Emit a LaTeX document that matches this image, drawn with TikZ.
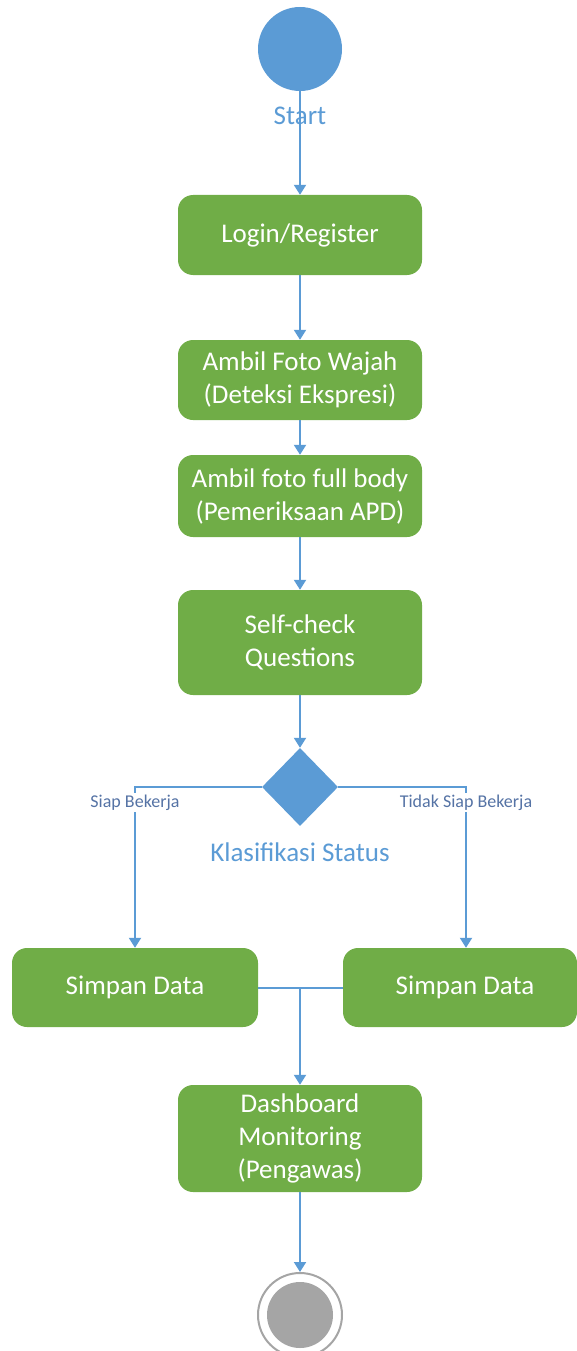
\documentclass[tikz,border=0pt]{standalone}
\usepackage{fontspec}
\setmainfont{Carlito}
\usetikzlibrary{arrows.meta,shapes.geometric}
\definecolor{actgreen}{HTML}{70AD47}
\definecolor{flowblue}{HTML}{5B9BD5}
\definecolor{endgray}{HTML}{A5A5A5}
\definecolor{guardblue}{RGB}{85,115,165}

\begin{document}
\begin{tikzpicture}[x=1pt,y=-1pt,
  action/.style={rectangle, rounded corners=15pt, fill=actgreen, text=white,
    font=\fontsize{27}{33}\selectfont, align=center, inner sep=0pt},
  wire/.style={draw=flowblue, line width=2pt},
  flow/.style={wire, -{Triangle[width=12pt,length=10pt]}},
  caption/.style={text=flowblue, font=\fontsize{27}{33}\selectfont, inner sep=0pt},
  guard/.style={text=guardblue, fill=white, font=\fontsize{18}{22}\selectfont, inner sep=2pt}
]
\useasboundingbox (0,0) rectangle (577,1351);

% initial and final states
\node[circle, fill=flowblue, minimum size=84pt, inner sep=0pt] (start) at (300,49) {};
\node[caption] (startlbl) at (300,116) {Start};

% activities
\node[action, minimum width=244pt, minimum height=80pt] (login) at (300,235) {Login/Register};
\node[action, minimum width=244pt, minimum height=80pt] (wajah) at (300,380) {Ambil Foto Wajah\\(Deteksi Ekspresi)};
\node[action, minimum width=244pt, minimum height=82pt] (body) at (300,496) {Ambil foto full body\\(Pemeriksaan APD)};
\node[action, minimum width=244pt, minimum height=105pt] (self) at (300,642.5) {Self-check\\Questions};

% decision
\node[diamond, fill=flowblue, minimum width=76pt, minimum height=78pt, inner sep=0pt] (dec) at (300,787) {};
\node[caption] (declbl) at (300,852) {Klasifikasi Status};

\node[action, minimum width=246pt, minimum height=79pt] (simpanL) at (135,987.5) {Simpan Data};
\node[action, minimum width=234pt, minimum height=79pt,
  label={[text=white, font=\fontsize{27}{33}\selectfont, inner sep=0pt, xshift=5pt]center:Simpan Data}] (simpanR) at (460,987.5) {};
\coordinate (inR) at ([xshift=6pt]simpanR.north);

\node[action, minimum width=244pt, minimum height=107pt] (dash) at (300,1138.5) {Dashboard\\Monitoring\\(Pengawas)};

\node[circle, draw=endgray, line width=2pt, fill=white, minimum size=84pt, inner sep=0pt] (end) at (300,1315) {};
\node[circle, fill=endgray, minimum size=66pt, inner sep=0pt] (endin) at (end.center) {};

% control flow
\draw[flow] (start) -- (login);
\draw[flow] (login) -- (wajah);
\draw[flow] (wajah) -- (body);
\draw[flow] (body) -- (self);
\draw[flow] (self) -- (dec);
\draw[flow] (dec.west) -| node[guard, pos=0.548] {Siap Bekerja} (simpanL.north);
\draw[flow] (dec.east) -| node[guard, pos=0.548] {Tidak Siap Bekerja} (inR);

\coordinate (merge) at (simpanL.east -| dash.north);
\draw[wire] (simpanL.east) -- (merge) -- (simpanR.west);
\draw[flow] (merge) -- (dash.north);
\draw[flow] (dash) -- (end);
\end{tikzpicture}
\end{document}
